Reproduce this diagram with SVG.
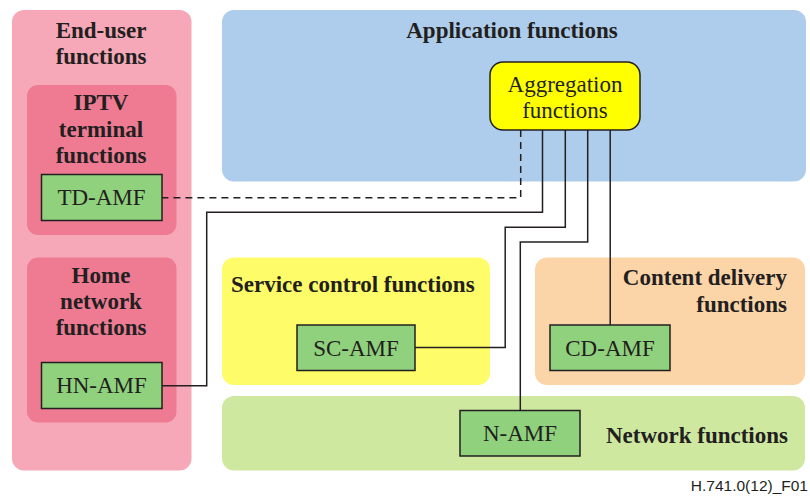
<svg xmlns="http://www.w3.org/2000/svg" width="810" height="496" viewBox="0 0 810 496">
<style>
.title{font-family:'Liberation Serif','DejaVu Serif',serif;font-weight:bold;font-size:23px;fill:#231f20}
.lbl{font-family:'Liberation Serif','DejaVu Serif',serif;font-size:23px;fill:#231f20}
.amf{fill:#8fd17d;stroke:#231f20;stroke-width:1.5}
.conn{fill:none;stroke:#231f20;stroke-width:1.5}
.dash{stroke-dasharray:7,5}
.foot{font-family:'Liberation Sans',Arial,sans-serif;font-size:15.5px;fill:#231f20}
</style>
<rect width="810" height="496" fill="#ffffff"/>
<g id="end-user">
<rect x="12" y="10" width="179.5" height="460.5" rx="12" fill="#f6a8b8"/>
<text class="title" x="101" y="37.5" text-anchor="middle">End-user</text>
<text class="title" x="101" y="63.5" text-anchor="middle">functions</text>
</g>
<g id="iptv-terminal">
<rect x="27" y="85" width="149.5" height="150" rx="11" fill="#ef7b93"/>
<text class="title" x="101" y="110" text-anchor="middle">IPTV</text>
<text class="title" x="101" y="136.5" text-anchor="middle">terminal</text>
<text class="title" x="101" y="162.5" text-anchor="middle">functions</text>
</g>
<g id="td-amf">
<rect class="amf" x="41.5" y="174.5" width="120.5" height="46"/>
<text class="lbl" x="101.5" y="204.5" text-anchor="middle">TD-AMF</text>
</g>
<g id="home-network">
<rect x="27" y="257.5" width="149.5" height="165" rx="11" fill="#ef7b93"/>
<text class="title" x="101" y="282.5" text-anchor="middle">Home</text>
<text class="title" x="101" y="308.5" text-anchor="middle">network</text>
<text class="title" x="101" y="335" text-anchor="middle">functions</text>
</g>
<g id="hn-amf">
<rect class="amf" x="41.5" y="362.5" width="120.5" height="46"/>
<text class="lbl" x="101.5" y="393" text-anchor="middle">HN-AMF</text>
</g>
<g id="application">
<rect x="222" y="10" width="584" height="171.5" rx="12" fill="#aecdec"/>
<text class="title" x="512" y="37.5" text-anchor="middle">Application functions</text>
</g>
<g id="service-control">
<rect x="222" y="257.5" width="268" height="127.5" rx="12" fill="#fffc6a"/>
<text class="title" x="231" y="291.5">Service control functions</text>
</g>
<g id="sc-amf">
<rect class="amf" x="297" y="325" width="118" height="45.5"/>
<text class="lbl" x="356" y="355.5" text-anchor="middle">SC-AMF</text>
</g>
<g id="content-delivery">
<rect x="535" y="257.5" width="270" height="127.5" rx="12" fill="#fbd5a8"/>
<text class="title" x="787" y="285" text-anchor="end">Content delivery</text>
<text class="title" x="787" y="311.5" text-anchor="end">functions</text>
</g>
<g id="cd-amf">
<rect class="amf" x="550" y="325" width="120" height="45.5"/>
<text class="lbl" x="610" y="355.5" text-anchor="middle">CD-AMF</text>
</g>
<g id="network">
<rect x="222" y="396" width="583" height="74.5" rx="12" fill="#cfe8a0"/>
<text class="title" x="788" y="442.5" text-anchor="end">Network functions</text>
</g>
<g id="n-amf">
<rect class="amf" x="460" y="410.5" width="120" height="45.5"/>
<text class="lbl" x="520" y="441" text-anchor="middle">N-AMF</text>
</g>
<g id="connectors">
<path class="conn dash" d="M520.7,130 V197.7 H162"/>
<path class="conn" d="M542.5,130 V212.3 H206.7 V385.7 H162"/>
<path class="conn" d="M565.3,130 V227.3 H505.2 V347.5 H415"/>
<path class="conn" d="M587.7,130 V242 H520.3 V410.5"/>
<path class="conn" d="M610.2,130 V325"/>
</g>
<g id="aggregation">
<rect x="490" y="62" width="150" height="68" rx="13" fill="#ffff00" stroke="#231f20" stroke-width="1.5"/>
<text class="lbl" x="565" y="91.5" text-anchor="middle">Aggregation</text>
<text class="lbl" x="565" y="117.5" text-anchor="middle">functions</text>
</g>
<text class="foot" x="808" y="491" text-anchor="end">H.741.0(12)_F01</text>
</svg>
